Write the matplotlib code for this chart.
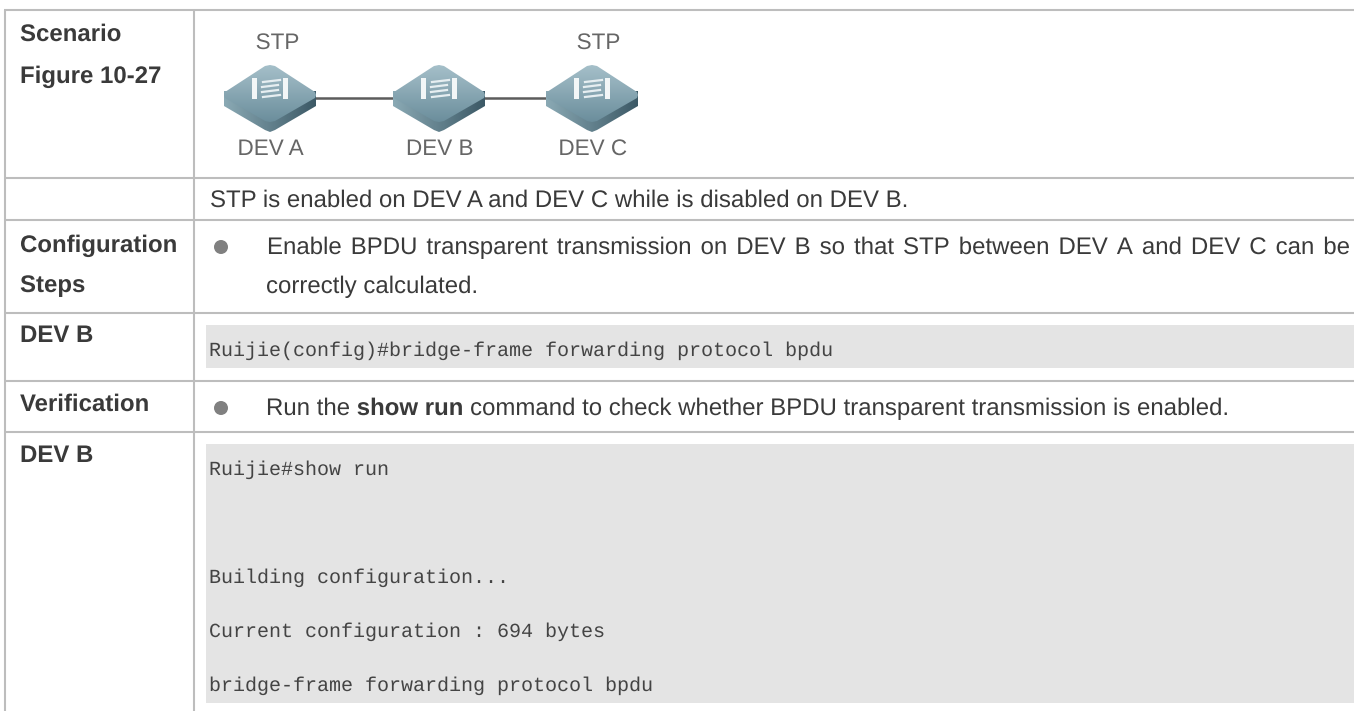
import numpy as np
import matplotlib
matplotlib.use("Agg")
import matplotlib.pyplot as plt
import matplotlib.patheffects as pe
from matplotlib.patches import Polygon, Rectangle, Circle

plt.rcParams["text.hinting"] = "no_hinting"
plt.rcParams["text.hinting_factor"] = 1

W, H = 1354, 711
SANS = "Liberation Sans"
MONO = "Liberation Mono"
LINE = "#bdbdbd"
TEXT = "#3a3a3a"
BOX = "#e4e4e4"
# text goes through the path renderer, keeps baselines of single words level
AS_PATH = [pe.Normal()]

row_lines = [10, 178, 220, 313, 381, 432]
left_x, col_x = 5, 194

left_labels = ["Scenario", "Figure 10-27", "Configuration", "Steps", "DEV B", "Verification", "DEV B"]
left_y = [41, 83, 252, 292, 342, 411, 462]

switch_x = [270, 439, 592]
switch_names = ["DEV A", "DEV B", "DEV C"]
stp_labels = [("STP", 277), ("STP", 598)]

intro = "STP is enabled on DEV A and DEV C while is disabled on DEV B."
step_1 = "Enable BPDU transparent transmission on DEV B so that STP between DEV A and DEV C can be"
step_2 = "correctly calculated."
verify_parts = [("Run the ", "normal"), ("show run", "bold"),
                (" command to check whether BPDU transparent transmission is enabled.", "normal")]
cmd_1 = "Ruijie(config)#bridge-frame forwarding protocol bpdu"
cmd_lines = ["Ruijie#show run", "Building configuration...", "Current configuration : 694 bytes",
             "bridge-frame forwarding protocol bpdu"]
cmd_y = [475, 583, 637, 691]

fig = plt.figure(figsize=(W / 100, H / 100), dpi=100)
ax = fig.add_axes([0, 0, 1, 1])
ax.axis("off")


def px(size):
    return size * 0.72


def grad_poly(pts, c1, c2, horizontal=False):
    # gradient filled polygon, imshow clipped to the outline
    pts = np.array(pts, float)
    x0, x1 = pts[:, 0].min(), pts[:, 0].max()
    y0, y1 = pts[:, 1].min(), pts[:, 1].max()
    t = np.linspace(0, 1, 64)
    c1 = np.array(matplotlib.colors.to_rgb(c1))
    c2 = np.array(matplotlib.colors.to_rgb(c2))
    g = c1[None, :] * (1 - t[:, None]) + c2[None, :] * t[:, None]
    img = g[None, :, :] if horizontal else g[:, None, :]
    im = ax.imshow(img, extent=[x0, x1, y1, y0], aspect="auto", zorder=3, interpolation="bilinear")
    p = Polygon(pts, closed=True, fc="none", ec="none", transform=ax.transData)
    ax.add_patch(p)
    im.set_clip_path(p)


def switch(cx, cy=95):
    body = [(cx - 46, cy - 4), (cx - 46, cy + 11), (cx - 5, cy + 35), (cx, cy + 37), (cx + 5, cy + 35),
            (cx + 46, cy + 11), (cx + 46, cy - 4)]
    grad_poly(body, "#8aa9b4", "#3c5966", horizontal=True)
    top = [(cx - 5, cy - 29), (cx, cy - 30), (cx + 5, cy - 29), (cx + 45, cy - 3), (cx + 46, cy), (cx + 45, cy + 3),
           (cx + 5, cy + 26), (cx, cy + 27), (cx - 5, cy + 26), (cx - 45, cy + 3), (cx - 46, cy), (cx - 45, cy - 3)]
    grad_poly(top, "#a5bfc9", "#6b8e9c")
    # white port marks on the top face
    ax.add_patch(Rectangle((cx - 18, cy - 17), 5, 21, fc="#f2f6f7", ec="none", zorder=4))
    ax.add_patch(Rectangle((cx + 13, cy - 17), 5, 21, fc="#f2f6f7", ec="none", zorder=4))
    for dy, x_a, x_b in [(-14, -7, 10), (-9, -8, 8), (-4, -8, 8), (1, -7, 10)]:
        ax.plot([cx + x_a, cx + x_b], [cy + dy + 1, cy + dy - 1], color="#e6eef1", lw=1.6, zorder=4)


# grey command boxes
ax.add_patch(Rectangle((206, 325), W - 206, 43, fc=BOX, ec="none", zorder=1))
ax.add_patch(Rectangle((206, 444), W - 206, 259, fc=BOX, ec="none", zorder=1))

# table rules
for y in row_lines:
    ax.plot([left_x - 1, W], [y, y], color=LINE, lw=1.5, solid_capstyle="butt", zorder=2)
ax.plot([left_x, left_x], [row_lines[0], H], color=LINE, lw=1.5, solid_capstyle="butt", zorder=2)
ax.plot([col_x, col_x], [row_lines[0], H], color=LINE, lw=1.5, solid_capstyle="butt", zorder=2)

for s, y in zip(left_labels, left_y):
    ax.text(20, y, s, fontfamily=SANS, fontweight="bold", fontsize=px(24), color=TEXT, va="baseline",
            path_effects=AS_PATH)

# network figure
ax.plot([switch_x[0], switch_x[-1]], [98, 98], color="#5c5c5c", lw=1.8, zorder=2)
for x, name in zip(switch_x, switch_names):
    switch(x)
    ax.text(x, 155, name, fontfamily=SANS, fontsize=px(22.5), color="#666666", ha="center", va="baseline",
            path_effects=AS_PATH)
for s, x in stp_labels:
    ax.text(x, 49, s, fontfamily=SANS, fontsize=px(22.5), color="#666666", ha="center", va="baseline",
            path_effects=AS_PATH)

ax.text(210, 207, intro, fontfamily=SANS, fontsize=px(24), color=TEXT, va="baseline", path_effects=AS_PATH)

# justified first line of the step
r = fig.canvas.get_renderer()
words = step_1.split(" ")
arts = [ax.text(0, 254, w, fontfamily=SANS, fontsize=px(24), color=TEXT, va="baseline", path_effects=AS_PATH)
        for w in words]
ws = [a.get_window_extent(r).width for a in arts]
gap = (1350 - 267 - sum(ws)) / (len(words) - 1)
x = 267
for a, w in zip(arts, ws):
    a.set_x(x)
    x += w + gap
ax.text(266, 293, step_2, fontfamily=SANS, fontsize=px(24), color=TEXT, va="baseline", path_effects=AS_PATH)

ax.add_patch(Circle((221, 247), 7, fc="#808080", ec="none", zorder=3))
ax.add_patch(Circle((221, 408), 7, fc="#808080", ec="none", zorder=3))

# bold run of the verification line
x = 266
for s, weight in verify_parts:
    t = ax.text(x, 415, s, fontfamily=SANS, fontweight=weight, fontsize=px(24), color=TEXT, va="baseline",
                path_effects=AS_PATH)
    x += t.get_window_extent(r).width

ax.text(209, 356, cmd_1, fontfamily=MONO, fontsize=px(20), color="#444444", va="baseline", path_effects=AS_PATH)
for s, y in zip(cmd_lines, cmd_y):
    ax.text(209, y, s, fontfamily=MONO, fontsize=px(20), color="#444444", va="baseline", path_effects=AS_PATH)

ax.set_xlim(0, W)
ax.set_ylim(H, 0)
fig.savefig("out.png", dpi=100, facecolor="white")
